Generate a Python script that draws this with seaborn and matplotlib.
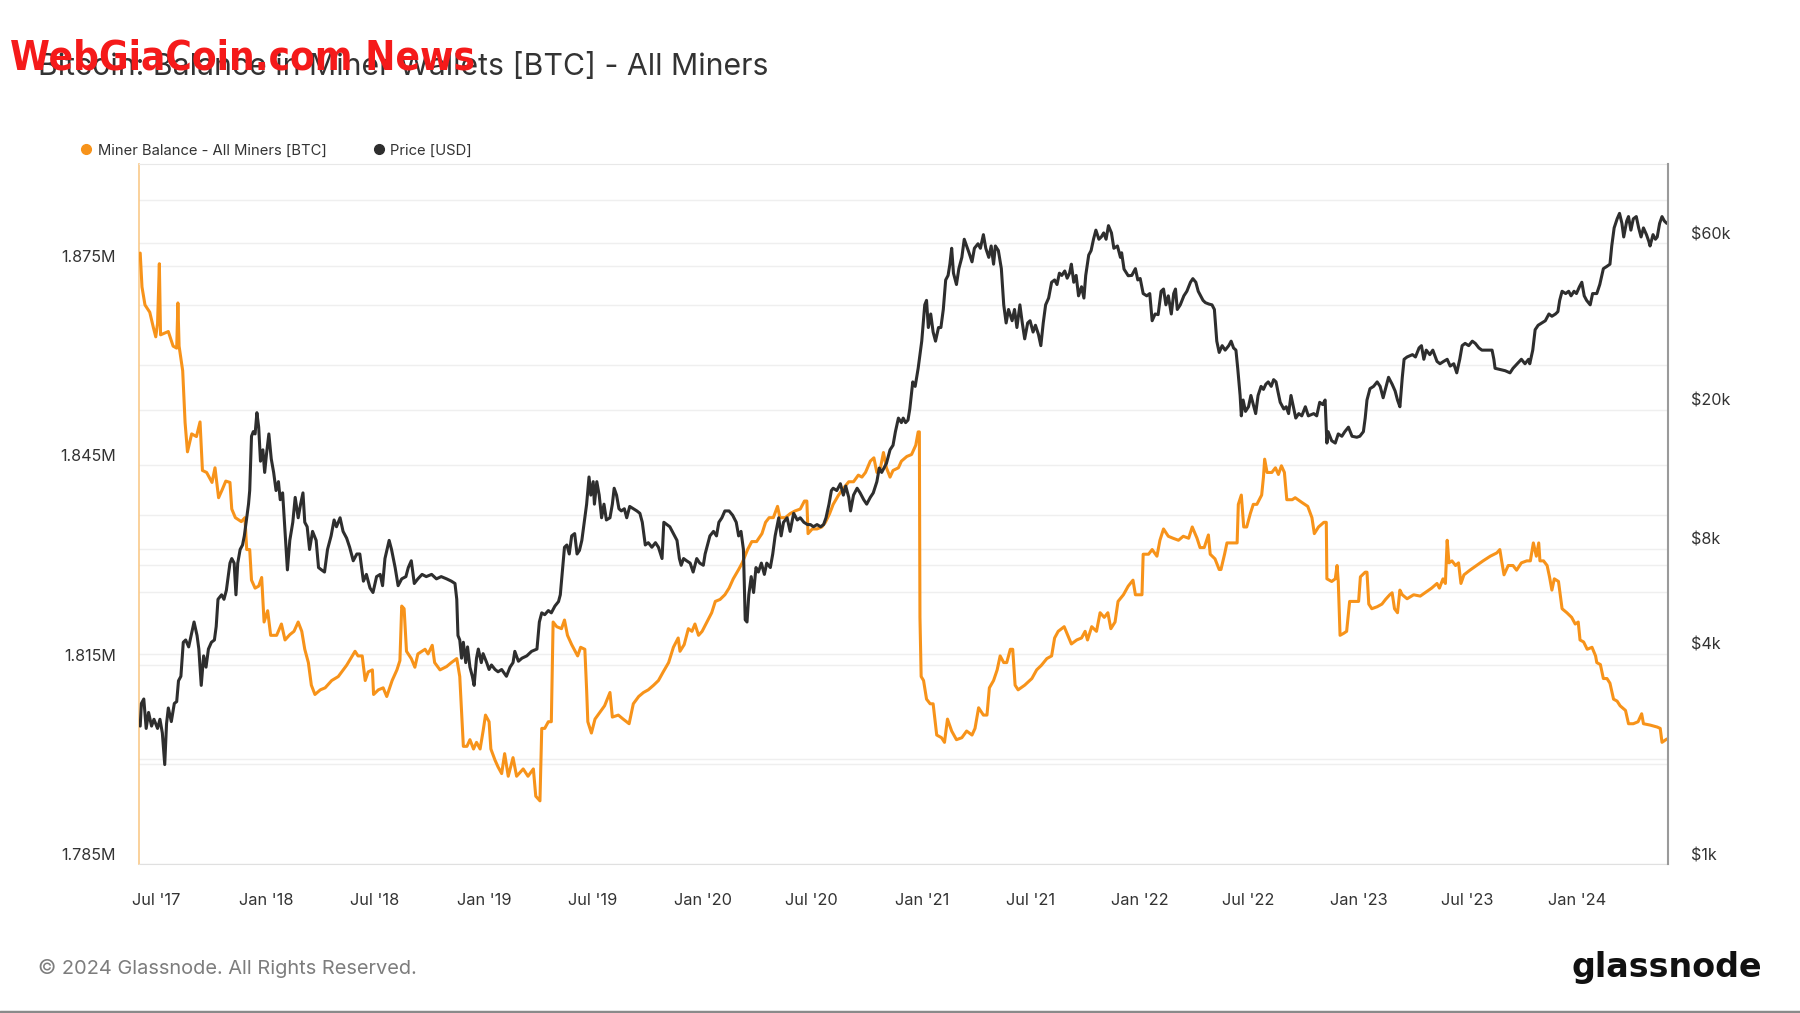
import numpy as np
import pandas as pd
import matplotlib
matplotlib.use('Agg')
import matplotlib.pyplot as plt
import matplotlib.dates as mdates
from matplotlib.ticker import FixedLocator, FuncFormatter, NullLocator
from matplotlib.transforms import ScaledTranslation, blended_transform_factory
from matplotlib.lines import Line2D
import seaborn as sns

sns.set_style('white')
plt.rcParams['font.family'] = ['Inter', 'Roboto', 'DejaVu Sans']

# Miner balance (million BTC)
balance_dates = [
    '2017-06-05', '2017-06-08', '2017-06-13', '2017-06-21', '2017-06-27', '2017-07-01', '2017-07-04',
    '2017-07-07', '2017-07-09', '2017-07-22', '2017-07-30', '2017-08-05', '2017-08-07', '2017-08-09',
    '2017-08-15', '2017-08-19', '2017-08-23', '2017-08-30', '2017-09-07', '2017-09-13', '2017-09-17',
    '2017-09-24', '2017-10-03', '2017-10-08', '2017-10-14', '2017-10-20', '2017-10-26', '2017-11-02',
    '2017-11-05', '2017-11-11', '2017-11-21', '2017-11-27', '2017-11-30', '2017-12-05', '2017-12-08',
    '2017-12-14', '2017-12-20', '2017-12-25', '2017-12-29', '2018-01-04', '2018-01-09', '2018-01-19',
    '2018-01-27', '2018-02-02', '2018-02-10', '2018-02-17', '2018-02-24', '2018-03-02', '2018-03-07',
    '2018-03-13', '2018-03-18', '2018-03-24', '2018-04-02', '2018-04-10', '2018-04-21', '2018-05-02',
    '2018-05-16', '2018-05-30', '2018-06-04', '2018-06-11', '2018-06-16', '2018-06-21', '2018-06-28',
    '2018-06-30', '2018-07-08', '2018-07-16', '2018-07-22', '2018-07-31', '2018-08-08', '2018-08-13',
    '2018-08-16', '2018-08-20', '2018-08-24', '2018-09-01', '2018-09-07', '2018-09-12', '2018-09-24',
    '2018-09-29', '2018-10-06', '2018-10-10', '2018-10-19', '2018-10-30', '2018-11-07', '2018-11-16',
    '2018-11-21', '2018-11-27', '2018-12-03', '2018-12-08', '2018-12-14', '2018-12-19', '2018-12-25',
    '2018-12-30', '2019-01-03', '2019-01-09', '2019-01-12', '2019-01-19', '2019-01-24', '2019-01-30',
    '2019-02-04', '2019-02-10', '2019-02-18', '2019-02-24', '2019-03-07', '2019-03-15', '2019-03-24',
    '2019-03-28', '2019-04-04', '2019-04-07', '2019-04-12', '2019-04-18', '2019-04-23', '2019-04-26',
    '2019-05-02', '2019-05-10', '2019-05-15', '2019-05-20', '2019-05-27', '2019-06-06', '2019-06-11',
    '2019-06-18', '2019-06-21', '2019-06-23', '2019-06-29', '2019-07-05', '2019-07-13', '2019-07-21',
    '2019-07-30', '2019-08-03', '2019-08-13', '2019-08-21', '2019-08-31', '2019-09-07', '2019-09-16',
    '2019-09-24', '2019-10-02', '2019-10-11', '2019-10-19', '2019-10-27', '2019-11-05', '2019-11-13',
    '2019-11-21', '2019-11-24', '2019-12-01', '2019-12-08', '2019-12-14', '2019-12-19', '2019-12-25',
    '2019-12-31', '2020-01-08', '2020-01-16', '2020-01-22', '2020-01-30', '2020-02-07', '2020-02-14',
    '2020-02-21', '2020-03-01', '2020-03-07', '2020-03-16', '2020-03-23', '2020-03-31', '2020-04-09',
    '2020-04-15', '2020-04-21', '2020-04-28', '2020-05-05', '2020-05-09', '2020-05-18', '2020-05-26',
    '2020-06-03', '2020-06-12', '2020-06-19', '2020-06-23', '2020-06-25', '2020-07-02', '2020-07-10',
    '2020-07-18', '2020-07-24', '2020-07-31', '2020-08-06', '2020-08-15', '2020-08-23', '2020-09-01',
    '2020-09-09', '2020-09-17', '2020-09-23', '2020-09-29', '2020-10-07', '2020-10-13', '2020-10-18',
    '2020-10-24', '2020-10-29', '2020-11-03', '2020-11-09', '2020-11-14', '2020-11-23', '2020-11-28',
    '2020-12-07', '2020-12-15', '2020-12-22', '2020-12-26', '2020-12-28', '2020-12-29', '2020-12-31',
    '2021-01-04', '2021-01-09', '2021-01-15', '2021-01-20', '2021-01-26', '2021-02-03', '2021-02-08',
    '2021-02-13', '2021-02-20', '2021-02-28', '2021-03-09', '2021-03-17', '2021-03-26', '2021-03-31',
    '2021-04-06', '2021-04-14', '2021-04-20', '2021-04-24', '2021-05-01', '2021-05-07', '2021-05-12',
    '2021-05-18', '2021-05-23', '2021-05-29', '2021-06-02', '2021-06-06', '2021-06-11', '2021-06-22',
    '2021-07-04', '2021-07-12', '2021-07-20', '2021-07-29', '2021-08-06', '2021-08-11', '2021-08-17',
    '2021-08-27', '2021-09-02', '2021-09-08', '2021-09-17', '2021-09-25', '2021-10-01', '2021-10-05',
    '2021-10-12', '2021-10-20', '2021-10-26', '2021-11-02', '2021-11-08', '2021-11-13', '2021-11-20',
    '2021-11-25', '2021-12-04', '2021-12-12', '2021-12-20', '2021-12-24', '2022-01-04', '2022-01-06',
    '2022-01-15', '2022-01-21', '2022-01-29', '2022-02-03', '2022-02-09', '2022-02-17', '2022-02-25',
    '2022-03-06', '2022-03-14', '2022-03-23', '2022-03-29', '2022-04-06', '2022-04-11', '2022-04-18',
    '2022-04-25', '2022-04-28', '2022-05-06', '2022-05-13', '2022-05-16', '2022-05-22', '2022-05-26',
    '2022-06-06', '2022-06-12', '2022-06-14', '2022-06-19', '2022-06-23', '2022-06-28', '2022-07-04',
    '2022-07-09', '2022-07-15', '2022-07-23', '2022-07-26', '2022-07-28', '2022-08-01', '2022-08-09',
    '2022-08-15', '2022-08-20', '2022-08-25', '2022-08-30', '2022-09-03', '2022-09-12', '2022-09-17',
    '2022-09-28', '2022-10-08', '2022-10-15', '2022-10-19', '2022-10-26', '2022-11-04', '2022-11-08',
    '2022-11-09', '2022-11-17', '2022-11-23', '2022-11-26', '2022-11-28', '2022-12-01', '2022-12-07',
    '2022-12-12', '2022-12-17', '2022-12-23', '2023-01-01', '2023-01-04', '2023-01-12', '2023-01-15',
    '2023-01-18', '2023-01-23', '2023-02-01', '2023-02-09', '2023-02-15', '2023-02-22', '2023-02-26',
    '2023-03-02', '2023-03-07', '2023-03-11', '2023-03-15', '2023-03-23', '2023-04-03', '2023-04-14',
    '2023-04-22', '2023-05-03', '2023-05-12', '2023-05-16', '2023-05-22', '2023-05-26', '2023-05-29',
    '2023-06-01', '2023-06-06', '2023-06-12', '2023-06-17', '2023-06-21', '2023-06-26', '2023-07-06',
    '2023-07-17', '2023-07-28', '2023-08-09', '2023-08-20', '2023-08-25', '2023-08-28', '2023-09-01',
    '2023-09-08', '2023-09-16', '2023-09-22', '2023-09-30', '2023-10-09', '2023-10-15', '2023-10-20',
    '2023-10-25', '2023-10-29', '2023-10-31', '2023-11-06', '2023-11-12', '2023-11-16', '2023-11-20',
    '2023-11-24', '2023-12-01', '2023-12-07', '2023-12-15', '2023-12-23', '2023-12-29', '2024-01-03',
    '2024-01-06', '2024-01-12', '2024-01-18', '2024-01-26', '2024-02-01', '2024-02-03', '2024-02-09',
    '2024-02-14', '2024-02-20', '2024-02-25', '2024-03-02', '2024-03-08', '2024-03-13', '2024-03-22',
    '2024-03-27', '2024-04-04', '2024-04-12', '2024-04-18', '2024-04-21', '2024-05-02', '2024-05-14',
    '2024-05-19', '2024-05-22', '2024-05-30',
]
balance_mbtc = [
    1.8769, 1.8718, 1.8691, 1.8680, 1.8657, 1.8643, 1.8663,
    1.8753, 1.8646, 1.8651, 1.8629, 1.8626, 1.8694, 1.8629,
    1.8592, 1.8514, 1.8470, 1.8497, 1.8493, 1.8515, 1.8442,
    1.8439, 1.8424, 1.8446, 1.8401, 1.8413, 1.8426, 1.8424,
    1.8384, 1.8371, 1.8365, 1.8371, 1.8323, 1.8323, 1.8277,
    1.8265, 1.8268, 1.8281, 1.8214, 1.8231, 1.8194, 1.8194,
    1.8211, 1.8187, 1.8195, 1.8200, 1.8214, 1.8200, 1.8173,
    1.8153, 1.8119, 1.8105, 1.8112, 1.8115, 1.8126, 1.8132,
    1.8149, 1.8170, 1.8163, 1.8163, 1.8126, 1.8139, 1.8142,
    1.8105, 1.8112, 1.8115, 1.8102, 1.8126, 1.8142, 1.8156,
    1.8238, 1.8234, 1.8170, 1.8159, 1.8146, 1.8166, 1.8173,
    1.8166, 1.8179, 1.8153, 1.8142, 1.8147, 1.8153, 1.8159,
    1.8132, 1.8027, 1.8027, 1.8037, 1.8023, 1.8033, 1.8023,
    1.8050, 1.8074, 1.8064, 1.8023, 1.8006, 1.7996, 1.7986,
    1.8016, 1.7982, 1.8010, 1.7982, 1.7993, 1.7982, 1.7993,
    1.7952, 1.7945, 1.8054, 1.8054, 1.8064, 1.8064, 1.8214,
    1.8207, 1.8204, 1.8217, 1.8194, 1.8180, 1.8163, 1.8176,
    1.8173, 1.8112, 1.8064, 1.8047, 1.8068, 1.8078, 1.8088,
    1.8108, 1.8071, 1.8074, 1.8068, 1.8061, 1.8091, 1.8102,
    1.8108, 1.8112, 1.8119, 1.8126, 1.8139, 1.8153, 1.8176,
    1.8190, 1.8170, 1.8180, 1.8204, 1.8200, 1.8211, 1.8194,
    1.8200, 1.8214, 1.8228, 1.8245, 1.8248, 1.8255, 1.8265,
    1.8279, 1.8293, 1.8303, 1.8323, 1.8335, 1.8335, 1.8347,
    1.8364, 1.8371, 1.8371, 1.8388, 1.8371, 1.8371, 1.8377,
    1.8381, 1.8384, 1.8396, 1.8396, 1.8347, 1.8354, 1.8354,
    1.8357, 1.8364, 1.8377, 1.8391, 1.8405, 1.8415, 1.8425,
    1.8425, 1.8435, 1.8432, 1.8439, 1.8456, 1.8461, 1.8439,
    1.8446, 1.8469, 1.8446, 1.8432, 1.8442, 1.8446, 1.8456,
    1.8463, 1.8466, 1.8480, 1.8500, 1.8500, 1.8221, 1.8132,
    1.8126, 1.8098, 1.8091, 1.8091, 1.8044, 1.8040, 1.8033,
    1.8068, 1.8050, 1.8037, 1.8040, 1.8050, 1.8044, 1.8054,
    1.8085, 1.8074, 1.8074, 1.8115, 1.8126, 1.8142, 1.8163,
    1.8153, 1.8153, 1.8173, 1.8173, 1.8119, 1.8112, 1.8119,
    1.8129, 1.8142, 1.8149, 1.8159, 1.8163, 1.8190, 1.8200,
    1.8207, 1.8194, 1.8181, 1.8187, 1.8190, 1.8200, 1.8187,
    1.8207, 1.8200, 1.8228, 1.8221, 1.8228, 1.8204, 1.8214,
    1.8245, 1.8255, 1.8268, 1.8277, 1.8255, 1.8255, 1.8316,
    1.8316, 1.8323, 1.8313, 1.8337, 1.8354, 1.8343, 1.8340,
    1.8337, 1.8343, 1.8340, 1.8357, 1.8340, 1.8326, 1.8326,
    1.8345, 1.8316, 1.8309, 1.8293, 1.8293, 1.8316, 1.8333,
    1.8333, 1.8333, 1.8391, 1.8405, 1.8357, 1.8357, 1.8377,
    1.8391, 1.8391, 1.8405, 1.8432, 1.8459, 1.8439, 1.8439,
    1.8446, 1.8436, 1.8449, 1.8439, 1.8398, 1.8398, 1.8401,
    1.8394, 1.8388, 1.8371, 1.8347, 1.8357, 1.8364, 1.8364,
    1.8279, 1.8275, 1.8279, 1.8299, 1.8275, 1.8194, 1.8197,
    1.8200, 1.8245, 1.8245, 1.8245, 1.8282, 1.8289, 1.8289,
    1.8241, 1.8234, 1.8237, 1.8241, 1.8248, 1.8255, 1.8258,
    1.8234, 1.8228, 1.8262, 1.8255, 1.8249, 1.8255, 1.8253,
    1.8258, 1.8265, 1.8272, 1.8265, 1.8279, 1.8272, 1.8337,
    1.8303, 1.8306, 1.8299, 1.8303, 1.8272, 1.8285, 1.8292,
    1.8299, 1.8306, 1.8313, 1.8318, 1.8323, 1.8306, 1.8285,
    1.8299, 1.8299, 1.8292, 1.8303, 1.8306, 1.8306, 1.8333,
    1.8313, 1.8333, 1.8306, 1.8306, 1.8299, 1.8282, 1.8262,
    1.8279, 1.8275, 1.8234, 1.8228, 1.8221, 1.8211, 1.8214,
    1.8187, 1.8184, 1.8173, 1.8176, 1.8163, 1.8153, 1.8150,
    1.8129, 1.8129, 1.8122, 1.8098, 1.8095, 1.8088, 1.8081,
    1.8061, 1.8061, 1.8064, 1.8076, 1.8061, 1.8059, 1.8056,
    1.8054, 1.8033, 1.8038,
]

# BTC price (USD)
price_dates = [
    '2017-06-05', '2017-06-07', '2017-06-11', '2017-06-15', '2017-06-19', '2017-06-24', '2017-06-28',
    '2017-07-04', '2017-07-08', '2017-07-12', '2017-07-16', '2017-07-19', '2017-07-22', '2017-07-27',
    '2017-08-01', '2017-08-05', '2017-08-08', '2017-08-12', '2017-08-16', '2017-08-20', '2017-08-25',
    '2017-08-30', '2017-09-03', '2017-09-08', '2017-09-11', '2017-09-15', '2017-09-19', '2017-09-23',
    '2017-09-27', '2017-10-02', '2017-10-07', '2017-10-10', '2017-10-13', '2017-10-19', '2017-10-23',
    '2017-10-27', '2017-11-02', '2017-11-05', '2017-11-09', '2017-11-12', '2017-11-15', '2017-11-19',
    '2017-11-23', '2017-11-26', '2017-11-29', '2017-12-03', '2017-12-05', '2017-12-08', '2017-12-11',
    '2017-12-14', '2017-12-17', '2017-12-20', '2017-12-23', '2017-12-27', '2017-12-30', '2018-01-02',
    '2018-01-06', '2018-01-10', '2018-01-14', '2018-01-18', '2018-01-22', '2018-01-25', '2018-01-29',
    '2018-02-02', '2018-02-06', '2018-02-10', '2018-02-15', '2018-02-19', '2018-02-24', '2018-02-28',
    '2018-03-04', '2018-03-07', '2018-03-11', '2018-03-15', '2018-03-20', '2018-03-26', '2018-03-30',
    '2018-04-04', '2018-04-09', '2018-04-14', '2018-04-20', '2018-04-25', '2018-04-29', '2018-05-05',
    '2018-05-10', '2018-05-16', '2018-05-21', '2018-05-27', '2018-06-02', '2018-06-07', '2018-06-13',
    '2018-06-18', '2018-06-24', '2018-06-29', '2018-07-05', '2018-07-11', '2018-07-15', '2018-07-19',
    '2018-07-26', '2018-07-30', '2018-08-05', '2018-08-10', '2018-08-16', '2018-08-23', '2018-08-27',
    '2018-09-01', '2018-09-06', '2018-09-12', '2018-09-19', '2018-09-26', '2018-10-05', '2018-10-13',
    '2018-10-21', '2018-10-30', '2018-11-07', '2018-11-13', '2018-11-16', '2018-11-18', '2018-11-21',
    '2018-11-24', '2018-11-27', '2018-12-01', '2018-12-04', '2018-12-08', '2018-12-12', '2018-12-15',
    '2018-12-19', '2018-12-22', '2018-12-27', '2018-12-30', '2019-01-05', '2019-01-09', '2019-01-13',
    '2019-01-19', '2019-01-24', '2019-01-30', '2019-02-07', '2019-02-13', '2019-02-18', '2019-02-21',
    '2019-02-27', '2019-03-05', '2019-03-13', '2019-03-21', '2019-03-30', '2019-04-03', '2019-04-07',
    '2019-04-12', '2019-04-18', '2019-04-23', '2019-04-29', '2019-05-05', '2019-05-08', '2019-05-12',
    '2019-05-15', '2019-05-19', '2019-05-23', '2019-05-27', '2019-06-01', '2019-06-05', '2019-06-09',
    '2019-06-13', '2019-06-17', '2019-06-21', '2019-06-25', '2019-06-28', '2019-07-02', '2019-07-04',
    '2019-07-08', '2019-07-12', '2019-07-16', '2019-07-20', '2019-07-24', '2019-07-30', '2019-08-03',
    '2019-08-06', '2019-08-10', '2019-08-14', '2019-08-18', '2019-08-23', '2019-08-27', '2019-09-01',
    '2019-09-07', '2019-09-13', '2019-09-18', '2019-09-22', '2019-09-27', '2019-10-02', '2019-10-08',
    '2019-10-14', '2019-10-19', '2019-10-25', '2019-10-28', '2019-11-02', '2019-11-07', '2019-11-13',
    '2019-11-19', '2019-11-23', '2019-11-26', '2019-11-30', '2019-12-05', '2019-12-11', '2019-12-16',
    '2019-12-22', '2019-12-27', '2020-01-02', '2020-01-05', '2020-01-08', '2020-01-13', '2020-01-19',
    '2020-01-24', '2020-01-28', '2020-02-02', '2020-02-07', '2020-02-14', '2020-02-20', '2020-02-26',
    '2020-03-01', '2020-03-05', '2020-03-09', '2020-03-12', '2020-03-15', '2020-03-18', '2020-03-22',
    '2020-03-26', '2020-03-30', '2020-04-03', '2020-04-08', '2020-04-13', '2020-04-17', '2020-04-23',
    '2020-04-27', '2020-05-01', '2020-05-07', '2020-05-11', '2020-05-15', '2020-05-21', '2020-05-26',
    '2020-06-01', '2020-06-07', '2020-06-12', '2020-06-18', '2020-06-24', '2020-06-29', '2020-07-04',
    '2020-07-10', '2020-07-16', '2020-07-21', '2020-07-25', '2020-07-30', '2020-08-03', '2020-08-06',
    '2020-08-12', '2020-08-18', '2020-08-23', '2020-08-27', '2020-09-01', '2020-09-04', '2020-09-09',
    '2020-09-15', '2020-09-20', '2020-09-26', '2020-10-01', '2020-10-07', '2020-10-12', '2020-10-18',
    '2020-10-22', '2020-10-26', '2020-11-03', '2020-11-09', '2020-11-14', '2020-11-18', '2020-11-23',
    '2020-11-28', '2020-12-01', '2020-12-05', '2020-12-09', '2020-12-12', '2020-12-17', '2020-12-21',
    '2020-12-26', '2021-01-01', '2021-01-06', '2021-01-09', '2021-01-12', '2021-01-16', '2021-01-20',
    '2021-01-24', '2021-01-29', '2021-02-02', '2021-02-06', '2021-02-10', '2021-02-14', '2021-02-17',
    '2021-02-20', '2021-02-23', '2021-02-28', '2021-03-04', '2021-03-09', '2021-03-13', '2021-03-17',
    '2021-03-21', '2021-03-26', '2021-03-30', '2021-04-05', '2021-04-09', '2021-04-14', '2021-04-18',
    '2021-04-23', '2021-04-27', '2021-05-01', '2021-05-04', '2021-05-09', '2021-05-14', '2021-05-18',
    '2021-05-22', '2021-05-26', '2021-06-01', '2021-06-05', '2021-06-09', '2021-06-14', '2021-06-18',
    '2021-06-22', '2021-06-27', '2021-07-01', '2021-07-06', '2021-07-10', '2021-07-15', '2021-07-19',
    '2021-07-23', '2021-07-27', '2021-08-01', '2021-08-06', '2021-08-11', '2021-08-15', '2021-08-19',
    '2021-08-23', '2021-08-28', '2021-09-01', '2021-09-05', '2021-09-08', '2021-09-12', '2021-09-16',
    '2021-09-20', '2021-09-25', '2021-09-29', '2021-10-02', '2021-10-07', '2021-10-11', '2021-10-15',
    '2021-10-19', '2021-10-24', '2021-10-28', '2021-11-01', '2021-11-05', '2021-11-09', '2021-11-14',
    '2021-11-18', '2021-11-24', '2021-11-29', '2021-12-01', '2021-12-05', '2021-12-12', '2021-12-18',
    '2021-12-24', '2021-12-28', '2022-01-01', '2022-01-06', '2022-01-12', '2022-01-17', '2022-01-21',
    '2022-01-26', '2022-01-31', '2022-02-05', '2022-02-09', '2022-02-13', '2022-02-17', '2022-02-22',
    '2022-02-26', '2022-03-01', '2022-03-04', '2022-03-09', '2022-03-15', '2022-03-20', '2022-03-26',
    '2022-03-30', '2022-04-04', '2022-04-08', '2022-04-12', '2022-04-16', '2022-04-20', '2022-04-26',
    '2022-05-01', '2022-05-05', '2022-05-09', '2022-05-13', '2022-05-18', '2022-05-23', '2022-05-29',
    '2022-06-02', '2022-06-06', '2022-06-10', '2022-06-13', '2022-06-17', '2022-06-19', '2022-06-22',
    '2022-06-26', '2022-07-01', '2022-07-05', '2022-07-09', '2022-07-13', '2022-07-17', '2022-07-22',
    '2022-07-26', '2022-07-30', '2022-08-03', '2022-08-08', '2022-08-12', '2022-08-16', '2022-08-19',
    '2022-08-23', '2022-08-29', '2022-09-02', '2022-09-06', '2022-09-10', '2022-09-14', '2022-09-18',
    '2022-09-23', '2022-09-28', '2022-10-04', '2022-10-09', '2022-10-18', '2022-10-23', '2022-10-28',
    '2022-11-02', '2022-11-06', '2022-11-09', '2022-11-11', '2022-11-17', '2022-11-23', '2022-11-28',
    '2022-12-04', '2022-12-09', '2022-12-15', '2022-12-21', '2022-12-29', '2023-01-03', '2023-01-09',
    '2023-01-12', '2023-01-15', '2023-01-20', '2023-01-26', '2023-02-01', '2023-02-06', '2023-02-11',
    '2023-02-15', '2023-02-20', '2023-02-26', '2023-03-03', '2023-03-07', '2023-03-11', '2023-03-15',
    '2023-03-18', '2023-03-23', '2023-04-01', '2023-04-06', '2023-04-12', '2023-04-16', '2023-04-20',
    '2023-04-24', '2023-04-30', '2023-05-05', '2023-05-12', '2023-05-17', '2023-05-23', '2023-05-29',
    '2023-06-03', '2023-06-09', '2023-06-14', '2023-06-19', '2023-06-23', '2023-06-28', '2023-07-04',
    '2023-07-10', '2023-07-15', '2023-07-21', '2023-07-26', '2023-08-03', '2023-08-12', '2023-08-15',
    '2023-08-17', '2023-08-26', '2023-09-03', '2023-09-11', '2023-09-16', '2023-09-23', '2023-09-30',
    '2023-10-06', '2023-10-12', '2023-10-14', '2023-10-19', '2023-10-23', '2023-10-28', '2023-11-03',
    '2023-11-09', '2023-11-15', '2023-11-20', '2023-11-26', '2023-11-30', '2023-12-03', '2023-12-07',
    '2023-12-13', '2023-12-18', '2023-12-22', '2023-12-27', '2023-12-31', '2024-01-05', '2024-01-09',
    '2024-01-13', '2024-01-17', '2024-01-23', '2024-01-27', '2024-02-03', '2024-02-08', '2024-02-14',
    '2024-02-20', '2024-02-25', '2024-02-28', '2024-03-03', '2024-03-08', '2024-03-12', '2024-03-16',
    '2024-03-19', '2024-03-24', '2024-03-27', '2024-03-31', '2024-04-04', '2024-04-09', '2024-04-13',
    '2024-04-17', '2024-04-21', '2024-04-26', '2024-04-30', '2024-05-02', '2024-05-07', '2024-05-11',
    '2024-05-14', '2024-05-18', '2024-05-22', '2024-05-26', '2024-05-30',
]
price_usd = [
    2484, 2884, 2970, 2446, 2718, 2484, 2598,
    2446, 2598, 2374, 1927, 2520, 2799, 2559,
    2884, 2920, 3349, 3450, 4318, 4384, 4188,
    4581, 4936, 4515, 4129, 3249, 3947, 3664,
    4129, 4318, 4384, 4792, 5734, 5906, 5734,
    6085, 7280, 7502, 7280, 5906, 7280, 7963,
    8204, 8711, 9530, 10740, 11750, 16810, 17330,
    17070, 19640, 17850, 14260, 15370, 13240, 14920,
    17070, 14480, 13240, 11750, 12460, 11060, 11570,
    8974, 6961, 8457, 9530, 11230, 9817, 10740,
    11570, 9530, 9253, 7963, 8974, 8457, 7069,
    6961, 6862, 7963, 8711, 9676, 9253, 9817,
    8974, 8580, 8083, 7393, 7731, 7731, 6462,
    6757, 6178, 5996, 6659, 6757, 6272, 7502,
    8457, 7963, 7069, 6272, 6561, 6659, 7069,
    7393, 6364, 6561, 6757, 6659, 6757, 6561,
    6659, 6561, 6462, 6364, 5734, 4515, 4384,
    3888, 4318, 3775, 4188, 3664, 3450, 3249,
    3888, 4129, 3775, 4006, 3775, 3608, 3717,
    3608, 3554, 3608, 3450, 3664, 3775, 4067,
    3810, 3888, 3947, 4067, 4129, 4936, 5243,
    5180, 5323, 5243, 5483, 5648, 5906, 7069,
    8083, 8204, 7731, 8711, 8845, 7731, 7916,
    8457, 9530, 10740, 12850, 11400, 12460, 10740,
    12460, 11400, 9817, 10740, 9676, 9817, 10740,
    11930, 11400, 10420, 10270, 10420, 9817, 10580,
    10420, 10270, 10110, 9530, 8204, 8330, 8083,
    8330, 8083, 7502, 9530, 9387, 9253, 8845,
    8457, 7502, 7176, 7502, 7393, 7280, 6862,
    7502, 7280, 7176, 7731, 8083, 8711, 8974,
    8711, 9530, 9817, 10270, 10270, 9983, 9530,
    8711, 8974, 7963, 5007, 4936, 5906, 6659,
    5996, 7069, 6862, 7280, 6757, 7280, 7069,
    7731, 8711, 9817, 8711, 9530, 9817, 8974,
    10110, 9676, 9817, 9530, 9387, 9387, 9253,
    9387, 9253, 9387, 9817, 10740, 11750, 11930,
    11750, 12290, 11400, 12100, 11230, 10270, 11400,
    11930, 11570, 11060, 10740, 11230, 11570, 12460,
    13630, 13240, 14060, 15370, 15840, 17330, 18950,
    18390, 18950, 18390, 18700, 20120, 24060, 23360,
    26320, 31500, 40000, 41200, 34440, 37660, 33430,
    31480, 34440, 34440, 38800, 47140, 48570, 52310,
    58100, 49300, 45740, 50790, 54720, 61660, 58990,
    56400, 53120, 58100, 59850, 58100, 63560, 58100,
    54720, 58990, 52310, 58990, 57230, 50790, 40000,
    35490, 38800, 36020, 38800, 34440, 40000, 35490,
    31960, 35490, 36020, 33430, 34960, 32920, 30560,
    35490, 40000, 41830, 46430, 47140, 45740, 49300,
    48570, 50020, 47700, 49300, 52310, 46430, 48570,
    42450, 45070, 41830, 48570, 55550, 57230, 61660,
    65480, 61660, 62600, 64300, 61660, 67450, 64300,
    58100, 58990, 54720, 56400, 50630, 48470, 48570,
    50790, 47140, 47600, 43090, 42450, 43090, 36020,
    37660, 37500, 43750, 44400, 40000, 42450, 37660,
    43090, 44400, 38800, 40000, 42450, 43750, 46430,
    47550, 46430, 43750, 42450, 41200, 40580, 40200,
    40000, 38800, 31480, 29220, 30560, 29670, 30560,
    31480, 30100, 29670, 26320, 22000, 19230, 21350,
    19810, 20420, 22000, 20720, 19520, 22000, 23360,
    22900, 23700, 24060, 23360, 24420, 24060, 22660,
    21030, 20120, 20420, 19520, 22000, 20420, 18950,
    19520, 19230, 20420, 19230, 19520, 19230, 21030,
    20720, 21350, 16070, 17330, 16320, 16070, 17070,
    16810, 17330, 17850, 16810, 16700, 16810, 17330,
    18950, 21350, 23010, 23360, 24060, 23360, 21670,
    23010, 24800, 23700, 22660, 21350, 20420, 24800,
    27930, 28360, 28800, 28360, 30100, 30560, 27930,
    29670, 28800, 29670, 27540, 27120, 27540, 27930,
    26710, 27120, 25540, 27930, 30560, 31020, 30560,
    31480, 31020, 30100, 29670, 29670, 29670, 27930,
    26320, 26100, 25900, 25540, 26320, 27120, 27930,
    27120, 27930, 27120, 29670, 33950, 34960, 35490,
    36020, 37660, 37100, 37660, 38240, 41200, 43750,
    43090, 43750, 42450, 43750, 43090, 45070, 46430,
    42450, 41200, 40000, 43090, 43090, 45740, 50790,
    51570, 52310, 58990, 66450, 70540, 73140, 68470,
    62600, 69530, 71610, 65480, 70540, 71610, 66450,
    62600, 66450, 63560, 60760, 58990, 63560, 61660,
    62600, 68470, 71610, 69530, 68470,
]

balance_ticks = [1.785, 1.815, 1.845, 1.875]
balance_minor = [1.800, 1.830, 1.860]
price_ticks = [1000, 4000, 8000, 20000, 60000]
price_labels = ['$1k', '$4k', '$8k', '$20k', '$60k']
price_grid = [2000, 4000, 6000, 8000, 10000, 20000, 40000, 60000, 80000]

ORANGE = '#f7931a'
DARK = '#2e2e2e'
TEXT = '#333333'
GRID = '#efefef'

bal = pd.DataFrame({'date': pd.to_datetime(balance_dates), 'balance': balance_mbtc})
px = pd.DataFrame({'date': pd.to_datetime(price_dates), 'price': price_usd})

W, H = 1800, 1013
fig = plt.figure(figsize=(W / 100, H / 100), dpi=100)
ax = fig.add_axes([139 / W, 1 - 864 / H, (1668 - 139) / W, (864 - 164) / H])
ax2 = ax.twinx()

sns.lineplot(data=bal, x='date', y='balance', ax=ax, color=ORANGE, lw=2.2, zorder=3)
sns.lineplot(data=px, x='date', y='price', ax=ax2, color=DARK, lw=2.2)

# left axis: balance
ax.set_yticks(balance_ticks)
ax.yaxis.set_minor_locator(FixedLocator(balance_minor))
ax.yaxis.set_major_formatter(FuncFormatter(lambda v, _: f'{v:.3f}M'))
ax.grid(axis='y', which='both', color=GRID, lw=1)
ax.grid(axis='x', visible=False)

# right axis: price, log
ax2.set_yscale('log')
ax2.yaxis.set_major_locator(FixedLocator(price_ticks))
ax2.yaxis.set_minor_locator(NullLocator())
ax2.set_yticklabels(price_labels)
ax2.grid(False)
# price gridlines drawn under the lines, in the first axes
trans = blended_transform_factory(ax.transAxes, ax2.transData)
for v in price_grid:
    ax.add_line(Line2D([0, 1], [v, v], transform=trans, color=GRID, lw=1, zorder=0.5))

ax.xaxis.set_major_locator(mdates.MonthLocator(bymonth=[1, 7]))
ax.xaxis.set_major_formatter(mdates.DateFormatter("%b '%y"))

ax.set_xlim(pd.Timestamp('2017-06-03'), pd.Timestamp('2024-06-01'))
ax.set_ylim(1.785, 1.8903)
ax2.set_ylim(1000, 101300)

for a in (ax, ax2):
    a.set_xlabel('')
    a.set_ylabel('')

ax.tick_params(axis='y', which='both', length=0, labelsize=11.6, labelcolor=TEXT, pad=16.5)
ax2.tick_params(axis='y', which='both', length=0, labelsize=11.6, labelcolor=TEXT, pad=16.5)
ax.tick_params(axis='x', length=10, width=1, color='#e3e3e3', pad=10.6, labelsize=11.8, labelcolor=TEXT)

ax.spines['left'].set_color('#f9c98a')
ax.spines['left'].set_linewidth(1.2)
ax.spines['right'].set_visible(False)
ax.spines['top'].set_color('#e8e8e8')
ax.spines['bottom'].set_color('#e0e0e0')
for s in ('left', 'top', 'bottom'):
    ax2.spines[s].set_visible(False)
ax2.spines['right'].set_color('#9a9a9a')
ax2.spines['right'].set_linewidth(1.5)

# legend
handles = [Line2D([], [], ls='', marker='o', ms=7, color=ORANGE),
           Line2D([], [], ls='', marker='o', ms=7, color=DARK)]
fig.legend(handles, ['Miner Balance - All Miners [BTC]', 'Price [USD]'],
           loc='center left', bbox_to_anchor=(81.6 / W, 1 - 150.5 / H), ncol=2,
           frameon=False, fontsize=10.65, handlelength=0.6, handletextpad=0.5,
           columnspacing=3.2, borderpad=0, borderaxespad=0, labelcolor=TEXT)

fig.text(38 / W, 1 - 75 / H, 'Bitcoin: Balance in Miner Wallets [BTC] - All Miners',
         fontsize=21.75, color=TEXT, va='baseline', ha='left')
fig.text(10 / W, 1 - 70 / H, 'WebGiaCoin.com News', color='#f51a1a', fontsize=29,
         fontweight='bold', family=['Liberation Sans Narrow', 'DejaVu Sans'],
         fontstretch='condensed', va='baseline', ha='left')
fig.text(38 / W, 1 - 968 / H, '\u00a9 2024 Glassnode. All Rights Reserved.',
         fontsize=14.4, color='#7d7d7d', va='center', ha='left')
fig.text(1762 / W, 1 - 977 / H, 'glassnode', fontsize=24, fontweight='bold',
         family=['DejaVu Sans'], color='#111111', ha='right', va='baseline')
fig.add_artist(Line2D([0, 1], [1.2 / H, 1.2 / H], transform=fig.transFigure,
                      color='#8a8a8a', lw=2.5))

# y labels sit a little above their gridline, as in the source chart
fig.canvas.draw()
shift = ScaledTranslation(0, 0.10, fig.dpi_scale_trans)
for lbl in ax.get_yticklabels() + ax2.get_yticklabels():
    lbl.set_transform(lbl.get_transform() + shift)

fig.savefig('out.png', dpi=100, facecolor='white')
